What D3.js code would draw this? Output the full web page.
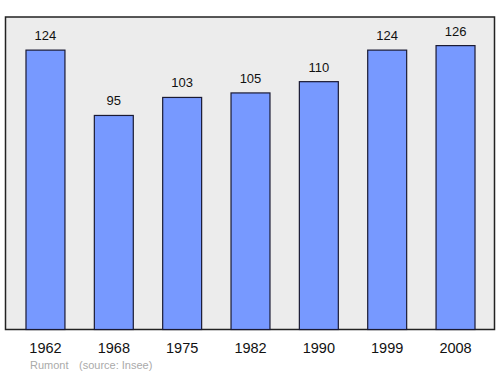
<!DOCTYPE html>
<html>
<head>
<meta charset="utf-8">
<script src="https://cdn.jsdelivr.net/npm/d3@7"></script>
<style>
  body { margin: 0; background: #fff; }
  svg { display: block; font-family: "Liberation Sans", Arial, sans-serif; }
</style>
</head>
<body>
<script>
// population by census year
var years = ['1962', '1968', '1975', '1982', '1990', '1999', '2008'];
var population = [124, 95, 103, 105, 110, 124, 126];
var footer = ['Rumont', '(source: Insee)'];

var width = 500, height = 374;
var frame = {left: 5.5, top: 17, right: 494.5, bottom: 329.5};

var svg = d3.select('body').append('svg')
  .attr('width', width)
  .attr('height', height);

var x = d3.scaleBand()
  .domain(years)
  .range([11.3, 489.7])
  .paddingInner(0.43)
  .paddingOuter(0.215);

var y = d3.scaleLinear()
  .domain([0, 138.7])
  .range([frame.bottom, frame.top]);

svg.append('rect')
  .attr('x', frame.left)
  .attr('y', frame.top)
  .attr('width', frame.right - frame.left)
  .attr('height', frame.bottom - frame.top)
  .attr('fill', '#ececec')
  .attr('stroke', '#222')
  .attr('stroke-width', 1.5);

var data = years.map(function (d, i) { return {year: d, value: population[i]}; });

svg.selectAll('rect.bar').data(data).enter()
  .append('rect')
  .attr('class', 'bar')
  .attr('x', function (d) { return x(d.year); })
  .attr('y', function (d) { return y(d.value); })
  .attr('width', x.bandwidth())
  .attr('height', function (d) { return y(0) - y(d.value); })
  .attr('fill', '#7799ff')
  .attr('stroke', '#1a1a33')
  .attr('stroke-width', 1.2);

svg.selectAll('text.val').data(data).enter()
  .append('text')
  .attr('class', 'val')
  .attr('x', function (d) { return x(d.year) + x.bandwidth() / 2; })
  .attr('y', function (d) { return y(d.value) - 10; })
  .attr('text-anchor', 'middle')
  .attr('font-size', 13)
  .attr('fill', '#111')
  .text(function (d) { return d.value; });

// x axis labels, no ticks
var xAxis = d3.axisBottom(x).tickSize(0).tickPadding(0);
var gx = svg.append('g')
  .attr('transform', 'translate(0,' + frame.bottom + ')')
  .call(xAxis);
gx.select('.domain').remove();
gx.selectAll('text')
  .attr('dy', 0)
  .attr('y', 23)
  .attr('font-size', 14.5)
  .attr('font-family', '"Liberation Sans", Arial, sans-serif')
  .attr('fill', '#111');

svg.append('text')
  .attr('x', 30)
  .attr('y', 369)
  .attr('font-size', 11)
  .attr('fill', '#aaa')
  .text(footer[0]);
svg.append('text')
  .attr('x', 79)
  .attr('y', 369)
  .attr('font-size', 11)
  .attr('fill', '#aaa')
  .text(footer[1]);
</script>
</body>
</html>
